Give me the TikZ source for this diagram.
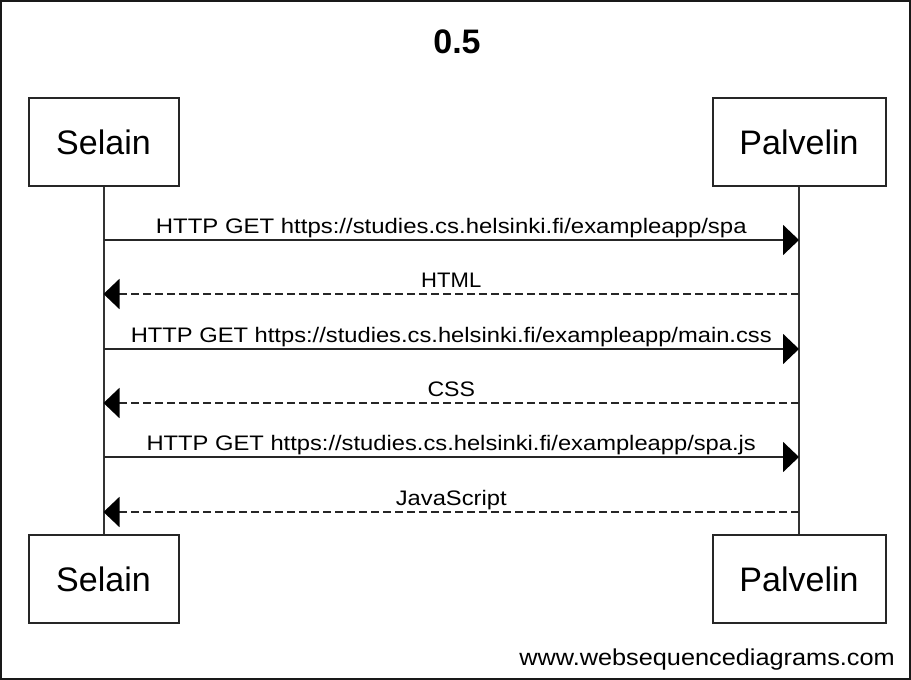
\documentclass[tikz,border=0pt]{standalone}
\usepackage{fontspec}
\usepackage{graphicx}
\setmainfont{Liberation Sans}
\usetikzlibrary{arrows.meta}
\begin{document}
\begin{tikzpicture}[x=1pt,y=-1pt,
  actor/.style={draw=black!85, line width=2pt, minimum height=88pt, inner sep=0pt, font=\fontsize{34}{40}\selectfont},
  life/.style={draw=black!80, line width=2pt},
  msg/.style={line width=2pt, draw=black!85, -{Triangle[length=16pt,width=30pt,color=black]}},
  ret/.style={msg, dash pattern=on 8pt off 4pt},
  lbl/.style={font=\fontsize{21}{24}\selectfont, inner sep=0pt, anchor=base, yshift=7pt, midway}]
\useasboundingbox (0,0) rectangle (911,680);
\draw[line width=2pt, black!90] (1,1) rectangle (910,679);

\node[font=\bfseries\fontsize{34}{38}\selectfont, anchor=base] (title) at (457,53) {0.5};

\node[actor, minimum width=150pt] (sTop) at (103.5,142) {Selain};
\node[actor, minimum width=173pt] (pTop) at (799,142) {Palvelin};
\node[actor, minimum width=150pt] (sBot) at (103.5,579) {Selain};
\node[actor, minimum width=173pt] (pBot) at (799,579) {Palvelin};

\draw[life] (sTop.south) -- (sBot.north);
\draw[life] (pTop.south) -- (pBot.north);

\foreach \i/\y in {1/240,2/294,3/349,4/403,5/457,6/512}{
  \coordinate (s\i) at (103.5,\y);
  \coordinate (p\i) at (799,\y);
}

\draw[msg] (s1) -- node[lbl]{\scalebox{1.14}[1]{HTTP GET https://studies.cs.helsinki.fi/exampleapp/spa}} (p1);
\draw[ret] (p2) -- node[lbl]{\scalebox{1.05}[1]{HTML}} (s2);
\draw[msg] (s3) -- node[lbl]{\scalebox{1.13}[1]{HTTP GET https://studies.cs.helsinki.fi/exampleapp/main.css}} (p3);
\draw[ret] (p4) -- node[lbl]{\scalebox{1.1}[1]{CSS}} (s4);
\draw[msg] (s5) -- node[lbl]{\scalebox{1.13}[1]{HTTP GET https://studies.cs.helsinki.fi/exampleapp/spa.js}} (p5);
\draw[ret] (p6) -- node[lbl]{\scalebox{1.13}[1]{JavaScript}} (s6);

\node[font=\fontsize{23}{26}\selectfont, anchor=base east, inner sep=0pt] (wm) at (895,665) {\scalebox{1.1}[1]{www.websequencediagrams.com}};
\end{tikzpicture}
\end{document}
